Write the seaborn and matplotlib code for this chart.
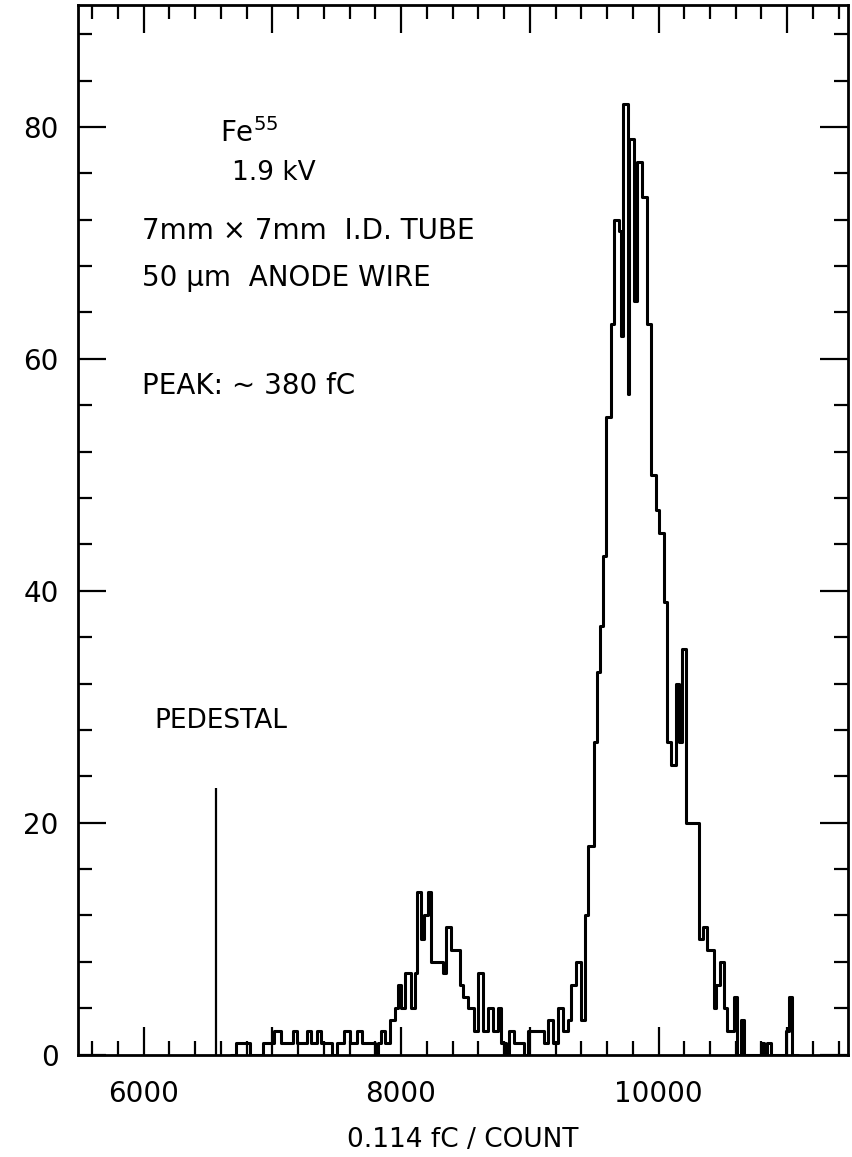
import numpy as np
import pandas as pd
import matplotlib
matplotlib.use("Agg")
import matplotlib.pyplot as plt
from matplotlib.ticker import MultipleLocator, FixedLocator
import seaborn as sns

# histogram: edges of each step, and the count in it
bin_edges = [6680, 6720, 6830, 6930, 7010, 7070, 7160, 7190, 7270, 7300, 7350,
             7380, 7460, 7500, 7560, 7600, 7660, 7700, 7800, 7820, 7847, 7873,
             7912, 7950, 7976, 8002, 8028, 8080, 8106, 8127, 8153, 8179, 8210,
             8235, 8325, 8351, 8385, 8455, 8480, 8519, 8566, 8597, 8635, 8674,
             8713, 8752, 8777, 8816, 8840, 8880, 8958, 8984, 9113, 9139, 9178,
             9217, 9256, 9295, 9320, 9359, 9398, 9429, 9449, 9501, 9521, 9545,
             9569, 9592, 9631, 9652, 9695, 9710, 9721, 9764, 9772, 9811, 9832,
             9868, 9909, 9940, 9979, 10003, 10045, 10064, 10095, 10134, 10160,
             10186, 10212, 10315, 10345, 10375, 10430, 10450, 10475, 10505,
             10530, 10585, 10610, 10638, 10661, 10793, 10816, 10845, 10876,
             10987, 11010, 11039, 11080]
counts = [0, 1, 0, 1, 2, 1, 2, 1, 2, 1, 2,
          1, 0, 1, 2, 1, 2, 1, 0, 1, 2, 1,
          3, 4, 6, 4, 7, 4, 7, 14, 10, 12, 14,
          8, 7, 11, 9, 6, 5, 4, 2, 7, 2, 4,
          2, 4, 1, 0, 2, 1, 0, 2, 1, 3, 1,
          4, 2, 3, 6, 8, 3, 12, 18, 27, 33, 37,
          43, 55, 63, 72, 71, 62, 82, 57, 79, 65, 77,
          74, 63, 50, 47, 45, 39, 27, 25, 32, 27,
          35, 20, 10, 11, 9, 4, 6, 8, 4,
          2, 5, 0, 3, 0, 1, 0, 1, 0,
          2, 5, 0]

pedestal_x = 6562
pedestal_count = 23

x_range = (5490, 11470)
y_range = (0, 90.5)
x_ticklabels = {6000: "6000", 8000: "8000", 10000: "10000"}
y_ticklabels = [0, 20, 40, 60, 80]

sns.set_style("ticks")
plt.rcParams["font.family"] = ["DejaVu Sans"]
plt.rcParams["mathtext.default"] = "regular"
plt.rcParams["text.color"] = "black"
plt.rcParams["axes.labelcolor"] = "black"
plt.rcParams["xtick.color"] = "black"
plt.rcParams["ytick.color"] = "black"
plt.rcParams["axes.edgecolor"] = "black"

centers = [(a + b) / 2 for a, b in zip(bin_edges[:-1], bin_edges[1:])]
df = pd.DataFrame({"adc": centers, "n": counts})

fig = plt.figure(figsize=(8.52, 11.57), dpi=100)
ax = fig.add_axes([0.0915, 0.0885, 0.9035, 0.907])

sns.histplot(data=df, x="adc", weights="n", bins=bin_edges, element="step",
             fill=False, color="black", linewidth=2.2, ax=ax)
ax.vlines(pedestal_x, 0, pedestal_count, color="black", linewidth=1.6)

ax.set_xlim(*x_range)
ax.set_ylim(*y_range)

# ticks inside on all four sides, like the old plotter output
major_x = list(range(6000, 12000, 1000))
ax.xaxis.set_major_locator(FixedLocator(major_x))
ax.set_xticklabels([x_ticklabels.get(v, "") for v in major_x])
ax.xaxis.set_minor_locator(MultipleLocator(200))
ax.yaxis.set_major_locator(FixedLocator(y_ticklabels))
ax.set_yticklabels([str(v) for v in y_ticklabels])
ax.yaxis.set_minor_locator(MultipleLocator(4))
ax.tick_params(which="both", direction="in", top=True, right=True, width=1.6,
               labelsize=20, color="black", labelcolor="black")
ax.tick_params(which="major", length=20)
ax.tick_params(axis="x", which="major", pad=18)
ax.tick_params(axis="y", which="major", pad=14)
ax.tick_params(which="minor", length=10)
for s in ax.spines.values():
    s.set_linewidth(2.0)
    s.set_color("black")
    s.set_visible(True)

ax.set_xlabel("0.114 fC / COUNT", fontsize=19, labelpad=14, color="black")
ax.set_ylabel("")

# annotations on the plot
ax.text(6590, 79.5, "Fe$^{55}$", fontsize=20, va="center")
ax.text(6690, 76.0, "1.9 kV", fontsize=19, va="center")
ax.text(5990, 71.0, "7mm \u00d7 7mm  I.D. TUBE", fontsize=20, va="center")
ax.text(5990, 67.0, "50 \u03bcm  ANODE WIRE", fontsize=20, va="center")
ax.text(5990, 57.7, "PEAK: ~ 380 fC", fontsize=20, va="center")
ax.text(6080, 28.8, "PEDESTAL", fontsize=19, va="center")

fig.savefig("out.png", dpi=100)
